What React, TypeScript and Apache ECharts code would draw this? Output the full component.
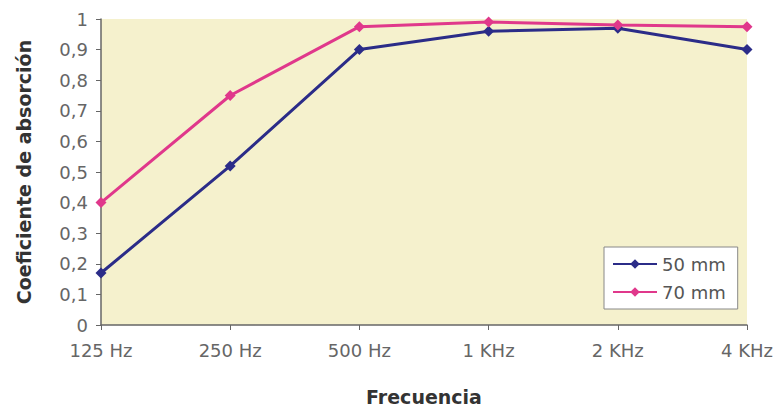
import React, { useEffect, useRef } from "react";
import * as echarts from "echarts";

const categories = ["125 Hz", "250 Hz", "500 Hz", "1 KHz", "2 KHz", "4 KHz"];
const series50 = [0.17, 0.52, 0.9, 0.96, 0.97, 0.9];
const series70 = [0.4, 0.75, 0.975, 0.99, 0.98, 0.975];
const seriesNames = ["50 mm", "70 mm"];

export default function App() {
  const ref = useRef<HTMLDivElement>(null);
  useEffect(() => {
    if (!ref.current) return;
    const chart = echarts.init(ref.current, null, { renderer: "svg" });
    const font = "DejaVu Sans, Verdana, sans-serif";
    chart.setOption({
      animation: false,
      textStyle: { fontFamily: font },
      grid: {
        left: 101,
        top: 19,
        width: 646,
        height: 306,
        show: true,
        backgroundColor: "#F5F1CD",
        borderWidth: 0,
        outerBoundsMode: "none",
        containLabel: false,
      },
      legend: {
        left: 604,
        top: 247,
        orient: "vertical",
        backgroundColor: "#fff",
        borderColor: "#888",
        borderWidth: 1,
        borderRadius: 0,
        padding: [8, 12, 8, 8],
        itemGap: 10,
        itemWidth: 44,
        itemHeight: 12,
        textStyle: { color: "#555", fontSize: 18, fontFamily: font },
        data: seriesNames,
      },
      xAxis: {
        type: "category",
        data: categories,
        boundaryGap: false,
        name: "Frecuencia",
        nameLocation: "middle",
        nameGap: 62,
        nameTextStyle: { fontWeight: "bold", color: "#333", fontSize: 19, fontFamily: font },
        axisLine: { lineStyle: { color: "#666", width: 1.5 } },
        axisTick: { show: true, length: 5, lineStyle: { color: "#666" } },
        axisLabel: { color: "#666", fontSize: 18, margin: 16, fontFamily: font },
        splitLine: { show: false },
      },
      yAxis: {
        type: "value",
        min: 0,
        max: 1,
        interval: 0.1,
        name: "Coeficiente de absorción",
        nameLocation: "middle",
        nameGap: 68,
        nameTextStyle: { fontWeight: "bold", color: "#333", fontSize: 19, fontFamily: font },
        axisLine: { show: true, lineStyle: { color: "#666", width: 1.5 } },
        axisTick: { show: true, length: 5, lineStyle: { color: "#666" } },
        axisLabel: {
          color: "#666",
          fontSize: 18,
          margin: 13,
          fontFamily: font,
          formatter: (v: number) => String(Math.round(v * 10) / 10).replace(".", ","),
        },
        splitLine: { show: false },
      },
      series: [
        {
          name: seriesNames[0],
          type: "line",
          data: series50,
          symbol: "diamond",
          symbolSize: 11,
          lineStyle: { color: "#2B2C88", width: 3 },
          itemStyle: { color: "#2B2C88" },
        },
        {
          name: seriesNames[1],
          type: "line",
          data: series70,
          symbol: "diamond",
          symbolSize: 11,
          lineStyle: { color: "#E0388B", width: 3 },
          itemStyle: { color: "#E0388B" },
        },
      ],
    });
    return () => chart.dispose();
  }, []);
  return (
    <div
      ref={ref}
      style={{ position: "absolute", left: 0, top: 0, width: 779, height: 407 }}
    />
  );
}
